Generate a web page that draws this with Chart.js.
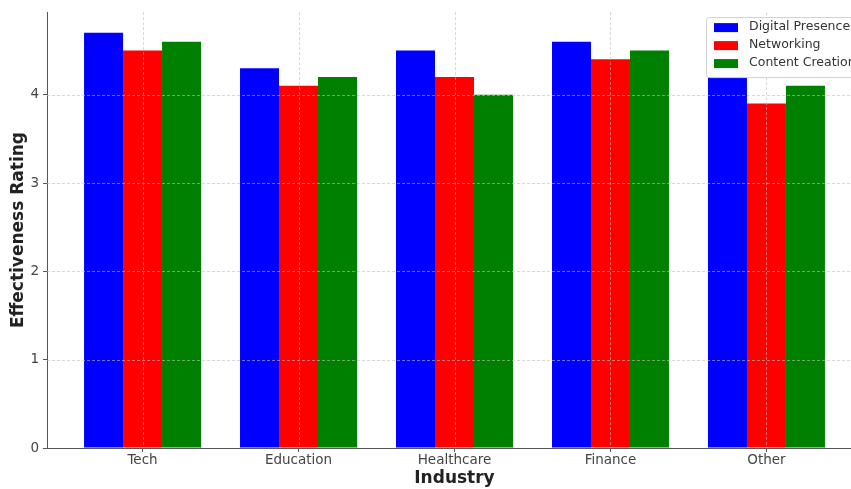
<!DOCTYPE html>
<html>
<head>
<meta charset="utf-8">
<script src="https://cdn.jsdelivr.net/npm/chart.js@4"></script>
<style>
  html, body { margin: 0; padding: 0; background: #fff; overflow: hidden; width: 851px; height: 489px; }
  #wrap { width: 866px; height: 489px; }
</style>
</head>
<body>
<div id="wrap"><canvas id="c" width="866" height="489"></canvas></div>
<script>
const industries = ['Tech', 'Education', 'Healthcare', 'Finance', 'Other'];
const digitalPresence = [4.7, 4.3, 4.5, 4.6, 4.4];
const networking = [4.5, 4.1, 4.2, 4.4, 3.9];
const contentCreation = [4.6, 4.2, 4.0, 4.5, 4.1];
const yTicks = [0, 1, 2, 3, 4];

const FONT = "'DejaVu Sans', sans-serif";
const toPoints = arr => arr.map((v, i) => ({ x: i, y: v }));

// Dashed grid drawn over the bars, plus a framed legend in the upper right
const overlay = {
  id: 'overlay',
  afterDatasetsDraw(chart) {
    const { ctx, chartArea: a, scales: { x, y } } = chart;
    ctx.save();
    ctx.strokeStyle = 'rgba(190,190,190,0.75)';
    ctx.lineWidth = 0.8;
    ctx.setLineDash([3, 2]);
    industries.forEach((_, i) => {
      const px = Math.round(x.getPixelForValue(i)) + 0.5;
      ctx.beginPath(); ctx.moveTo(px, a.top); ctx.lineTo(px, a.bottom); ctx.stroke();
    });
    yTicks.slice(1).forEach(v => {
      const py = Math.round(y.getPixelForValue(v)) + 0.5;
      ctx.beginPath(); ctx.moveTo(a.left, py); ctx.lineTo(a.right, py); ctx.stroke();
    });
    ctx.restore();

    // legend
    ctx.save();
    const lx = a.right - 156, ly = a.top + 5, lw = 153, lh = 60;
    ctx.fillStyle = '#ffffff';
    ctx.strokeStyle = '#d0d0d0';
    ctx.lineWidth = 1;
    ctx.beginPath();
    ctx.roundRect(lx + 0.5, ly + 0.5, lw, lh, 3);
    ctx.fill(); ctx.stroke();
    ctx.font = '12.5px ' + FONT;
    ctx.textBaseline = 'middle';
    chart.data.datasets.forEach((ds, i) => {
      const cy = ly + 10 + i * 18;
      ctx.fillStyle = ds.backgroundColor;
      ctx.fillRect(lx + 8, cy - 4, 24, 9);
      ctx.fillStyle = '#333';
      ctx.fillText(ds.label, lx + 43, cy);
    });
    ctx.restore();
  }
};

new Chart(document.getElementById('c'), {
  type: 'bar',
  data: {
    datasets: [
      { label: 'Digital Presence', data: toPoints(digitalPresence), backgroundColor: '#0000ff' },
      { label: 'Networking', data: toPoints(networking), backgroundColor: '#ff0000' },
      { label: 'Content Creation', data: toPoints(contentCreation), backgroundColor: '#008000' }
    ]
  },
  options: {
    responsive: false,
    animation: false,
    devicePixelRatio: 1,
    layout: { padding: { left: 0, top: 12, right: 4, bottom: 0 } },
    datasets: { bar: { categoryPercentage: 0.75, barPercentage: 1.0, borderWidth: 0 } },
    plugins: { legend: { display: false }, tooltip: { enabled: false } },
    scales: {
      x: {
        type: 'linear',
        offset: false,
        min: -0.6125,
        max: industries.length - 1 + 0.6125,
        afterBuildTicks: s => { s.ticks = industries.map((_, i) => ({ value: i })); },
        afterFit: s => { s.height = 41; },
        ticks: {
          callback: v => industries[v] ?? '',
          font: { family: FONT, size: 13.5 },
          color: '#444',
          padding: 0,
          maxRotation: 0,
          autoSkip: false
        },
        grid: { offset: false, drawOnChartArea: false, drawTicks: true, tickLength: 4, color: '#555' },
        border: { display: true, color: '#555', width: 1 },
        title: {
          display: true, text: 'Industry', color: '#222',
          font: { family: FONT, size: 17, weight: 'bold' }, padding: { top: 6, bottom: 0 }
        }
      },
      y: {
        min: 0,
        max: 4.935,
        afterBuildTicks: s => { s.ticks = yTicks.map(v => ({ value: v })); },
        afterFit: s => { s.width = 47; },
        ticks: {
          font: { family: FONT, size: 13.5 },
          color: '#444',
          padding: 4
        },
        grid: { drawOnChartArea: false, drawTicks: true, tickLength: 4, color: '#555' },
        border: { display: true, color: '#555', width: 1 },
        title: {
          display: true, text: 'Effectiveness Rating', color: '#222',
          font: { family: FONT, size: 17, weight: 'bold' }, padding: { top: 8, bottom: 0 }
        }
      }
    }
  },
  plugins: [overlay]
});
</script>
</body>
</html>
